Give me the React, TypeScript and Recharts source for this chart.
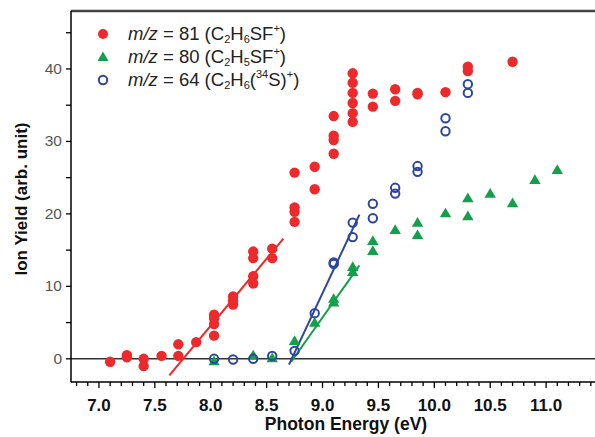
import React from 'react';
import { ScatterChart, Scatter, XAxis, YAxis, ReferenceLine } from 'recharts';

// ---- data ----
const redEnergy = [7.1, 7.25, 7.25, 7.4, 7.4, 7.56, 7.71, 7.71, 7.87, 8.03, 8.03, 8.03, 8.03, 8.2, 8.2, 8.2, 8.38, 8.38, 8.38, 8.38, 8.55, 8.55, 8.75, 8.75, 8.75, 8.75, 8.93, 8.93, 9.1, 9.1, 9.1, 9.1, 9.27, 9.27, 9.27, 9.27, 9.27, 9.27, 9.45, 9.45, 9.65, 9.65, 9.85, 9.85, 10.1, 10.3, 10.3, 10.7];
const redYield = [-0.4, 0.5, 0.2, 0.0, -1.0, 0.4, 2.0, 0.4, 2.3, 6.1, 5.6, 4.8, 3.2, 8.6, 8.0, 7.5, 14.8, 13.9, 11.4, 10.4, 15.2, 13.9, 25.7, 20.9, 20.3, 18.9, 26.5, 23.4, 33.5, 30.8, 30.2, 28.3, 39.4, 38.1, 36.7, 35.3, 33.9, 32.7, 36.6, 34.8, 37.2, 35.6, 36.7, 36.5, 36.8, 40.3, 39.7, 41.0];

const greenEnergy = [8.03, 8.38, 8.55, 8.75, 8.93, 9.1, 9.1, 9.27, 9.27, 9.45, 9.45, 9.65, 9.85, 9.85, 10.1, 10.3, 10.3, 10.5, 10.7, 10.9, 11.1];
const greenYield = [-0.3, 0.5, 0.1, 2.5, 5.0, 7.8, 8.3, 12.7, 12.0, 16.3, 14.9, 17.8, 18.8, 17.1, 20.1, 22.2, 19.7, 22.8, 21.5, 24.7, 26.1];

const blueEnergy = [8.03, 8.2, 8.38, 8.55, 8.75, 8.93, 9.1, 9.1, 9.27, 9.27, 9.45, 9.45, 9.65, 9.65, 9.85, 9.85, 10.1, 10.1, 10.3, 10.3];
const blueYield = [0.0, -0.1, 0.0, 0.4, 1.1, 6.3, 13.1, 13.3, 18.8, 16.8, 21.4, 19.4, 23.6, 22.8, 26.6, 25.8, 33.2, 31.4, 37.9, 36.7];

// linear fit segments (endpoints)
const redFit = [{ x: 7.63, y: -2.3 }, { x: 8.65, y: 16.6 }];
const blueFit = [{ x: 8.7, y: -0.8 }, { x: 9.33, y: 19.9 }];
const greenFit = [{ x: 8.72, y: -0.4 }, { x: 9.33, y: 12.9 }];

const xMajorTicks = [7.0, 7.5, 8.0, 8.5, 9.0, 9.5, 10.0, 10.5, 11.0];
const xMinorTicks = [6.8, 6.9, 7.1, 7.2, 7.3, 7.4, 7.6, 7.7, 7.8, 7.9, 8.1, 8.2, 8.3, 8.4, 8.6, 8.7, 8.8, 8.9, 9.1, 9.2, 9.3, 9.4, 9.6, 9.7, 9.8, 9.9, 10.1, 10.2, 10.3, 10.4, 10.6, 10.7, 10.8, 10.9, 11.1, 11.2, 11.3, 11.4];
const yMajorTicks = [0, 10, 20, 30, 40];
const yMinorTicks = [5, 15, 25, 35, 45];

const xDomain = [6.75, 11.5];
const yDomain = [-3.2, 48];

const RED = '#ec2a2c';
const GREEN = '#13a04a';
const BLUE = '#2c45a0';
const FONT = '"Liberation Sans", Arial, sans-serif';

const zip = (xs: number[], ys: number[]) => xs.map((x, i) => ({ x, y: ys[i] }));
const redData = zip(redEnergy, redYield);
const greenData = zip(greenEnergy, greenYield);
const blueData = zip(blueEnergy, blueYield);

const isMajorX = (v: number) => xMajorTicks.some((t) => Math.abs(t - v) < 1e-6);
const isMajorY = (v: number) => yMajorTicks.some((t) => Math.abs(t - v) < 1e-6);

const XTick = (props: any) => {
  const { x, y, payload } = props;
  const major = isMajorX(payload.value);
  return (
    <g>
      <line x1={x} x2={x} y1={y} y2={y + (major ? 6 : 4)} stroke="#000" strokeWidth={1.3} />
      {major && (
        <text x={x} y={y + 29} textAnchor="middle" fontFamily={FONT} fontWeight="bold" fontSize={17} fill="#111">
          {payload.value.toFixed(1)}
        </text>
      )}
    </g>
  );
};

const YTick = (props: any) => {
  const { x, y, payload } = props;
  const major = isMajorY(payload.value);
  return (
    <g>
      <line x1={x - 5} x2={x} y1={y} y2={y} stroke="#000" strokeWidth={1.3} />
      {major && (
        <text x={x - 9} y={y + 5} textAnchor="end" fontFamily={FONT} fontSize={15.5} fill="#555">
          {payload.value}
        </text>
      )}
    </g>
  );
};

const Dot = (props: any) => <circle cx={props.cx} cy={props.cy} r={5.2} fill={RED} />;
const Tri = (props: any) => {
  const { cx, cy } = props;
  return <polygon points={`${cx},${cy - 5.5} ${cx - 5.7},${cy + 4.2} ${cx + 5.7},${cy + 4.2}`} fill={GREEN} />;
};
const Ring = (props: any) => <circle cx={props.cx} cy={props.cy} r={4.2} fill="none" stroke={BLUE} strokeWidth={2} />;

const legendRow: React.CSSProperties = { display: 'flex', alignItems: 'center', height: 23 };
const legendText: React.CSSProperties = { fontFamily: FONT, fontSize: 18.5, color: '#222', marginLeft: 19, whiteSpace: 'nowrap' };
const sub: React.CSSProperties = { fontSize: 11, verticalAlign: '-3px' };
const sup: React.CSSProperties = { fontSize: 11, verticalAlign: '8px' };

export default function App() {
  return (
    <div style={{ position: 'absolute', left: 0, top: 0, width: 595, height: 437, overflow: 'hidden', background: '#fff' }}>
      <ScatterChart width={620} height={437} margin={{ top: 11, right: 18, left: 0, bottom: 0 }}>
        <XAxis
          type="number"
          dataKey="x"
          domain={xDomain}
          ticks={[...xMajorTicks, ...xMinorTicks].sort((a, b) => a - b)}
          interval={0}
          tickSize={0}
          tickMargin={0}
          tickLine={false}
          tick={<XTick />}
          axisLine={{ stroke: '#000', strokeWidth: 1.5 }}
          height={55}
          allowDataOverflow
        />
        <YAxis
          type="number"
          dataKey="y"
          domain={yDomain}
          ticks={[...yMajorTicks, ...yMinorTicks].sort((a, b) => a - b)}
          interval={0}
          tickSize={0}
          tickMargin={0}
          tickLine={false}
          tick={<YTick />}
          axisLine={{ stroke: '#000', strokeWidth: 1.5 }}
          width={71}
          allowDataOverflow
        />
        <ReferenceLine y={0} stroke="#333" strokeWidth={1.4} />
        <ReferenceLine y={48} stroke="#444" strokeWidth={2.5} />
        <Scatter data={redData} shape={<Dot />} isAnimationActive={false} />
        <Scatter data={greenData} shape={<Tri />} isAnimationActive={false} />
        <Scatter data={blueData} shape={<Ring />} isAnimationActive={false} />
        <ReferenceLine segment={redFit} stroke={RED} strokeWidth={2} />
        <ReferenceLine segment={greenFit} stroke={GREEN} strokeWidth={2} />
        <ReferenceLine segment={blueFit} stroke={BLUE} strokeWidth={2} />
      </ScatterChart>
      <div
        style={{
          position: 'absolute',
          left: 22,
          top: 199,
          transform: 'translate(-50%, -50%) rotate(-90deg)',
          fontFamily: FONT,
          fontWeight: 'bold',
          fontSize: 17,
          whiteSpace: 'nowrap',
          color: '#111',
        }}
      >
        Ion Yield (arb. unit)
      </div>
      <div
        style={{
          position: 'absolute',
          left: 346,
          top: 424,
          transform: 'translate(-50%, -50%)',
          fontFamily: FONT,
          fontWeight: 'bold',
          fontSize: 17.5,
          whiteSpace: 'nowrap',
          color: '#111',
        }}
      >
        Photon Energy (eV)
      </div>
      <div style={{ position: 'absolute', left: 97, top: 22 }}>
        <div style={legendRow}>
          <svg width={12} height={12}><circle cx={6} cy={6} r={5} fill={RED} /></svg>
          <span style={legendText}>
            <i>m/z</i> = 81 (C<span style={sub}>2</span>H<span style={sub}>6</span>SF<span style={sup}>+</span>)
          </span>
        </div>
        <div style={legendRow}>
          <svg width={12} height={12}><polygon points="6,0.5 0.5,10 11.5,10" fill={GREEN} /></svg>
          <span style={legendText}>
            <i>m/z</i> = 80 (C<span style={sub}>2</span>H<span style={sub}>5</span>SF<span style={sup}>+</span>)
          </span>
        </div>
        <div style={legendRow}>
          <svg width={12} height={12}><circle cx={6} cy={6} r={4.2} fill="none" stroke={BLUE} strokeWidth={2} /></svg>
          <span style={legendText}>
            <i>m/z</i> = 64 (C<span style={sub}>2</span>H<span style={sub}>6</span>(<span style={sup}>34</span>S)<span style={sup}>+</span>)
          </span>
        </div>
      </div>
    </div>
  );
}
